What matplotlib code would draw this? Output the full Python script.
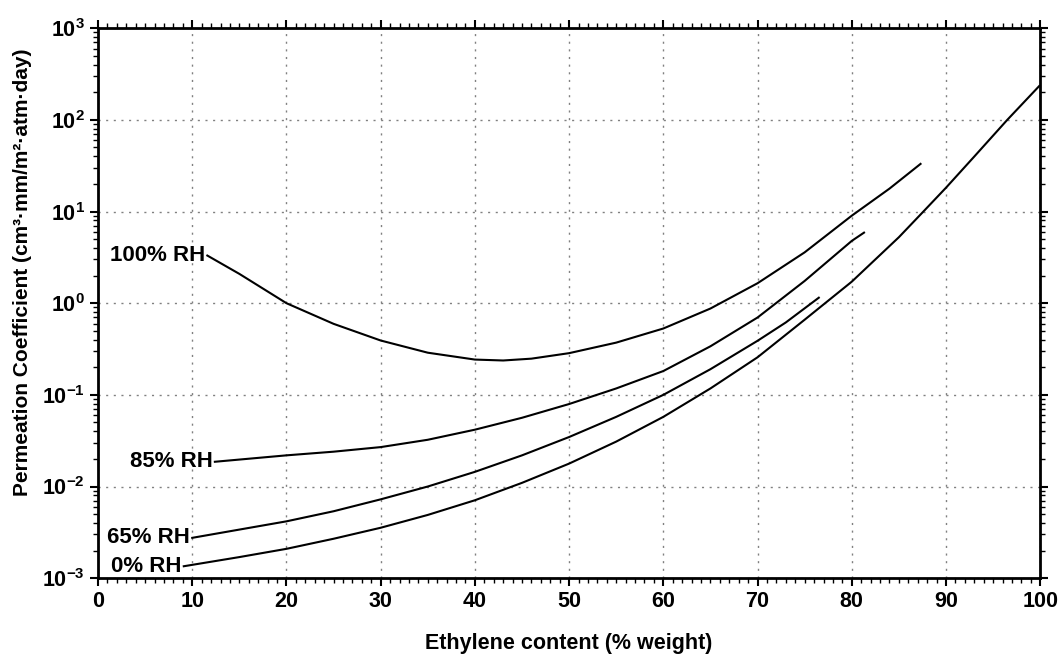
import numpy as np
import matplotlib.pyplot as plt
from matplotlib.ticker import MultipleLocator, LogLocator, NullFormatter, FuncFormatter

plt.rcParams['font.family'] = ['Liberation Sans', 'DejaVu Sans']
plt.rcParams['font.weight'] = 'bold'
plt.rcParams['mathtext.fontset'] = 'custom'
plt.rcParams['mathtext.rm'] = 'Liberation Sans:bold'
plt.rcParams['mathtext.bf'] = 'Liberation Sans:bold'

# values (x in % weight, y as log10 of the coefficient)
x_100 = [11.6, 15, 20, 25, 30, 35, 40, 43, 46, 50, 55, 60, 65, 70, 75, 80, 84, 87.3]
log_100 = [0.52, 0.32, 0.0, -0.225, -0.407, -0.54, -0.615, -0.625, -0.605, -0.545, -0.43, -0.276, -0.058, 0.218, 0.555, 0.955, 1.25, 1.52]

x_85 = [12.4, 20, 25, 30, 35, 40, 45, 50, 55, 60, 65, 70, 75, 80, 81.3]
log_85 = [-1.73, -1.66, -1.62, -1.57, -1.49, -1.38, -1.25, -1.10, -0.93, -0.74, -0.47, -0.156, 0.243, 0.68, 0.77]

x_65 = [10, 15, 20, 25, 30, 35, 40, 45, 50, 55, 60, 65, 70, 73, 76.5]
log_65 = [-2.56, -2.47, -2.38, -2.27, -2.14, -2.00, -1.84, -1.66, -1.46, -1.24, -1.00, -0.72, -0.41, -0.21, 0.06]

x_0 = [9.1, 15, 20, 25, 30, 35, 40, 45, 50, 55, 60, 65, 70, 75, 80, 85, 87.6, 90, 93, 96.5, 99.9]
log_0 = [-2.87, -2.77, -2.68, -2.57, -2.45, -2.31, -2.15, -1.96, -1.75, -1.51, -1.24, -0.93, -0.59, -0.18, 0.235, 0.72, 1.0, 1.26, 1.60, 2.0, 2.37]

labels = ["100% RH", "85% RH", "65% RH", "0% RH"]
curves = [(x_100, log_100), (x_85, log_85), (x_65, log_65), (x_0, log_0)]

fig = plt.figure(figsize=(10.61, 6.57), dpi=100)
ax = fig.add_axes([0.0924, 0.120, 0.888, 0.837])

for (xs, ls), lab in zip(curves, labels):
    ys = 10 ** np.array(ls)
    ax.plot(xs, ys, color='black', linewidth=1.5, solid_joinstyle='round')
    ax.text(xs[0] - 0.2, ys[0], lab, ha='right', va='center',
            fontsize=16, fontweight='bold')

ax.set_yscale('log')
ax.set_xlim(0, 100)
ax.set_ylim(1e-3, 1e3)

ax.xaxis.set_major_locator(MultipleLocator(10))
ax.xaxis.set_minor_locator(MultipleLocator(1))
ax.yaxis.set_major_locator(LogLocator(base=10, numticks=10))
ax.yaxis.set_minor_locator(LogLocator(base=10, subs=np.arange(2, 10), numticks=10))
ax.yaxis.set_minor_formatter(NullFormatter())
ax.yaxis.set_major_formatter(FuncFormatter(lambda v, p: r"$\mathbf{10^{%d}}$" % round(np.log10(v))))

ax.tick_params(which='both', direction='out', top=True, right=True,
               labeltop=False, labelright=False)
ax.tick_params(which='major', length=6, width=1.5, labelsize=15.5)
ax.tick_params(which='minor', length=3.5, width=1.0)
for lab in ax.get_xticklabels() + ax.get_yticklabels():
    lab.set_fontweight('bold')

for s in ax.spines.values():
    s.set_linewidth(2)

ax.grid(True, which='major', color='gray', linestyle=(0, (1.5, 4)), linewidth=1)

ax.set_xlabel("Ethylene content (% weight)", fontsize=15.5, fontweight='bold', labelpad=15)
ax.set_ylabel("Permeation Coefficient (cm³·mm/m²·atm·day)", fontsize=15,
              fontweight='bold')
ax.yaxis.set_label_coords(-0.07, 0.556)

fig.savefig("out.png", dpi=100)
